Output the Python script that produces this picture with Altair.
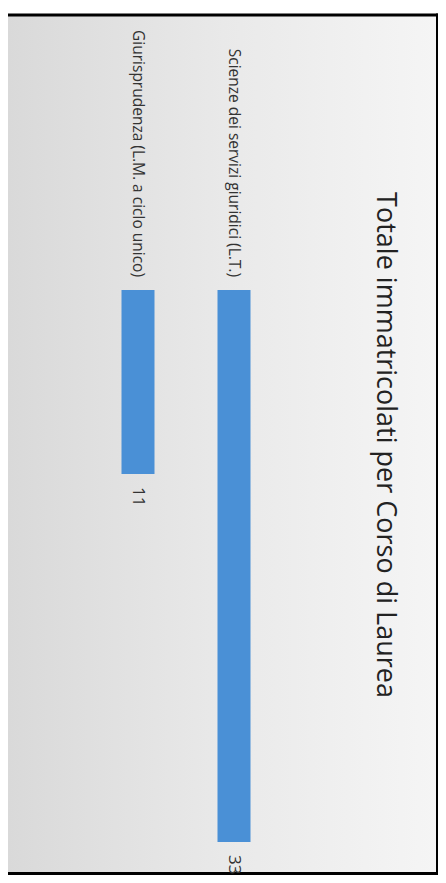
import altair as alt
import pandas as pd

# Data
courses = ["Giurisprudenza (L.M. a ciclo unico)", "Scienze dei servizi giuridici (L.T.)"]
totals = [11, 33]
title_text = "Totale immatricolati per Corso di Laurea"

df = pd.DataFrame({"course": courses, "total": totals})

W, H = 430, 867
FONT = "Open Sans"

xscale = alt.Scale(type="point", range=[130, 226], padding=0)
yscale = alt.Scale(nice=False, range=[282, 834])

one = alt.Data(values=[{"a": 1}])

bg = alt.Chart(one).mark_rect(
    color=alt.LinearGradient(
        gradient="linear",
        stops=[alt.GradientStop(color="#d9d9d9", offset=0),
               alt.GradientStop(color="#e9e9e9", offset=0.5),
               alt.GradientStop(color="#f5f5f5", offset=1)],
        x1=0, x2=1, y1=0, y2=0),
).encode(x=alt.value(0), x2=alt.value(429), y=alt.value(7), y2=alt.value(866))

frame_top = alt.Chart(one).mark_rule(color="black", strokeWidth=3).encode(
    x=alt.value(0), x2=alt.value(431), y=alt.value(7))
frame_bottom = alt.Chart(one).mark_rule(color="black", strokeWidth=3).encode(
    x=alt.value(0), x2=alt.value(431), y=alt.value(865.5))
frame_right = alt.Chart(one).mark_rule(color="black", strokeWidth=3).encode(
    x=alt.value(429.5), y=alt.value(5.5), y2=alt.value(867))

base = alt.Chart(df)

bars = base.mark_bar(size=33, color="#4a90d6").encode(
    x=alt.X("course:N", sort=courses, scale=xscale, axis=None),
    y=alt.Y("total:Q", scale=yscale, axis=None),
)

cat_labels = base.mark_text(
    angle=90, align="right", baseline="middle", dx=-13,
    font=FONT, fontSize=15.5, color="#333333",
).encode(
    x=alt.X("course:N", sort=courses, scale=xscale, axis=None),
    y=alt.Y(datum=0, scale=yscale, axis=None),
    text="course:N",
)

val_labels = base.mark_text(
    angle=90, align="left", baseline="middle", dx=13,
    font=FONT, fontSize=17, color="#333333",
).encode(
    x=alt.X("course:N", sort=courses, scale=xscale, axis=None),
    y=alt.Y("total:Q", scale=yscale, axis=None),
    text="total:Q",
)

title = alt.Chart(alt.Data(values=[{"t": title_text}])).mark_text(
    angle=90, align="center", baseline="alphabetic",
    font=FONT, fontSize=27, color="#222222",
).encode(x=alt.value(369), y=alt.value(437), text="t:N")

chart = alt.layer(
    bg, frame_top, frame_bottom, frame_right, bars, cat_labels, val_labels, title
).properties(
    width=W, height=H, autosize=alt.AutoSizeParams(type="none"), padding=0,
    background="white",
).configure_view(stroke=None)

chart.save("out.html", embed_options={"renderer": "svg", "actions": False})
